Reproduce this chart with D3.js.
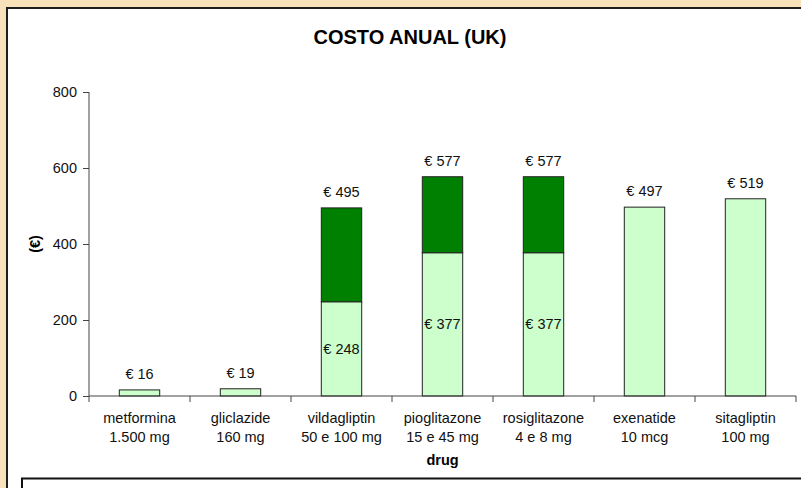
<!DOCTYPE html>
<html>
<head>
<meta charset="utf-8">
<script src="https://cdn.jsdelivr.net/npm/d3@7"></script>
<style>
  body { margin: 0; background: #f7e2ba; }
  svg { display: block; font-family: "Liberation Sans", Arial, sans-serif; }
</style>
</head>
<body>
<script>
// chart values
var drugs = ["metformina", "gliclazide", "vildagliptin", "pioglitazone", "rosiglitazone", "exenatide", "sitagliptin"];
var doses = ["1.500 mg", "160 mg", "50 e 100 mg", "15 e 45 mg", "4 e 8 mg", "10 mcg", "100 mg"];
var lowDose = [16, 19, 248, 377, 377, 497, 519];
var highExtra = [0, 0, 247, 200, 200, 0, 0];
var yTicks = [0, 200, 400, 600, 800];

var width = 801, height = 488;

var svg = d3.select("body")
    .append("svg")
    .attr("width", width)
    .attr("height", height);

// white chart area with dark frame
svg.append("rect")
    .attr("x", 7)
    .attr("y", 8)
    .attr("width", 900)
    .attr("height", 900)
    .attr("fill", "white")
    .attr("stroke", "#1e1e1e")
    .attr("stroke-width", 2);

// box under the chart (cut off)
svg.append("rect")
    .attr("x", 22)
    .attr("y", 478.5)
    .attr("width", 900)
    .attr("height", 100)
    .attr("fill", "white")
    .attr("stroke", "#111")
    .attr("stroke-width", 2);

var plotLeft = 89, plotRight = 796, plotTop = 92, plotBottom = 396;

var x = d3.scaleBand()
    .domain(drugs)
    .range([plotLeft, plotRight])
    .paddingInner(0.6)
    .paddingOuter(0.3);

var y = d3.scaleLinear()
    .domain([0, 800])
    .range([plotBottom, plotTop]);

var step = x.step();

// title
svg.append("text")
    .attr("x", 410)
    .attr("y", 44)
    .attr("text-anchor", "middle")
    .attr("font-size", 20)
    .attr("font-weight", "bold")
    .text("COSTO ANUAL (UK)");

// y axis
var yAxis = svg.append("g")
    .attr("transform", "translate(" + plotLeft + ",0)")
    .call(d3.axisLeft(y).tickValues(yTicks).tickSize(6).tickPadding(6));
yAxis.selectAll("text").attr("font-size", 14.5).attr("fill", "#111").style("font-family", "Liberation Sans, Arial, sans-serif");
yAxis.selectAll("line").attr("stroke", "#444");
yAxis.select(".domain").attr("stroke", "#444").attr("d", "M0," + plotTop + "V" + plotBottom);

svg.append("text")
    .attr("transform", "translate(40," + ((plotTop + plotBottom) / 2) + ") rotate(-90)")
    .attr("text-anchor", "middle")
    .attr("font-size", 14.5)
    .attr("font-weight", "bold")
    .text("(€)");

// bars: lower part
svg.append("g")
    .selectAll("rect")
    .data(drugs)
    .enter()
    .append("rect")
    .attr("x", function (d) { return x(d); })
    .attr("width", x.bandwidth())
    .attr("y", function (d, i) { return y(lowDose[i]); })
    .attr("height", function (d, i) { return y(0) - y(lowDose[i]); })
    .attr("fill", "#ccffcc")
    .attr("stroke", "#222")
    .attr("stroke-width", 1);

// bars: upper part
svg.append("g")
    .selectAll("rect")
    .data(drugs.filter(function (d, i) { return highExtra[i] > 0; }))
    .enter()
    .append("rect")
    .attr("x", function (d) { return x(d); })
    .attr("width", x.bandwidth())
    .attr("y", function (d) { var i = drugs.indexOf(d); return y(lowDose[i] + highExtra[i]); })
    .attr("height", function (d) { var i = drugs.indexOf(d); return y(lowDose[i]) - y(lowDose[i] + highExtra[i]); })
    .attr("fill", "#008000")
    .attr("stroke", "#222")
    .attr("stroke-width", 1);

// x axis line and category ticks
svg.append("line")
    .attr("x1", plotLeft)
    .attr("x2", plotRight)
    .attr("y1", plotBottom)
    .attr("y2", plotBottom)
    .attr("stroke", "#444");

var boundaries = drugs.map(function (d) { return x(d) - step * x.paddingInner() / 2; });
boundaries.push(plotRight);
svg.append("g")
    .selectAll("line")
    .data(boundaries)
    .enter()
    .append("line")
    .attr("x1", function (d) { return d; })
    .attr("x2", function (d) { return d; })
    .attr("y1", plotBottom)
    .attr("y2", plotBottom + 6)
    .attr("stroke", "#444");

// category labels (two lines)
var cats = svg.append("g")
    .selectAll("text")
    .data(drugs)
    .enter()
    .append("text")
    .attr("text-anchor", "middle")
    .attr("font-size", 14.5)
    .attr("fill", "#111");
cats.append("tspan")
    .attr("x", function (d) { return x(d) + x.bandwidth() / 2; })
    .attr("y", 423)
    .text(function (d) { return d; });
cats.append("tspan")
    .attr("x", function (d) { return x(d) + x.bandwidth() / 2; })
    .attr("y", 442)
    .text(function (d, i) { return doses[i]; });

svg.append("text")
    .attr("x", (plotLeft + plotRight) / 2)
    .attr("y", 465)
    .attr("text-anchor", "middle")
    .attr("font-size", 14.5)
    .attr("font-weight", "bold")
    .text("drug");

// total labels above bars
svg.append("g")
    .selectAll("text")
    .data(drugs)
    .enter()
    .append("text")
    .attr("x", function (d) { return x(d) + x.bandwidth() / 2; })
    .attr("y", function (d, i) { return y(lowDose[i] + highExtra[i]) - 11; })
    .attr("text-anchor", "middle")
    .attr("font-size", 14.5)
    .attr("fill", "#111")
    .text(function (d, i) { return "€ " + (lowDose[i] + highExtra[i]); });

// low-dose labels inside stacked bars
svg.append("g")
    .selectAll("text")
    .data(drugs.filter(function (d, i) { return highExtra[i] > 0; }))
    .enter()
    .append("text")
    .attr("x", function (d) { return x(d) + x.bandwidth() / 2; })
    .attr("y", function (d) { var i = drugs.indexOf(d); return (y(0) + y(lowDose[i])) / 2 + 5; })
    .attr("text-anchor", "middle")
    .attr("font-size", 14.5)
    .attr("fill", "#111")
    .text(function (d) { return "€ " + lowDose[drugs.indexOf(d)]; });
</script>
</body>
</html>
